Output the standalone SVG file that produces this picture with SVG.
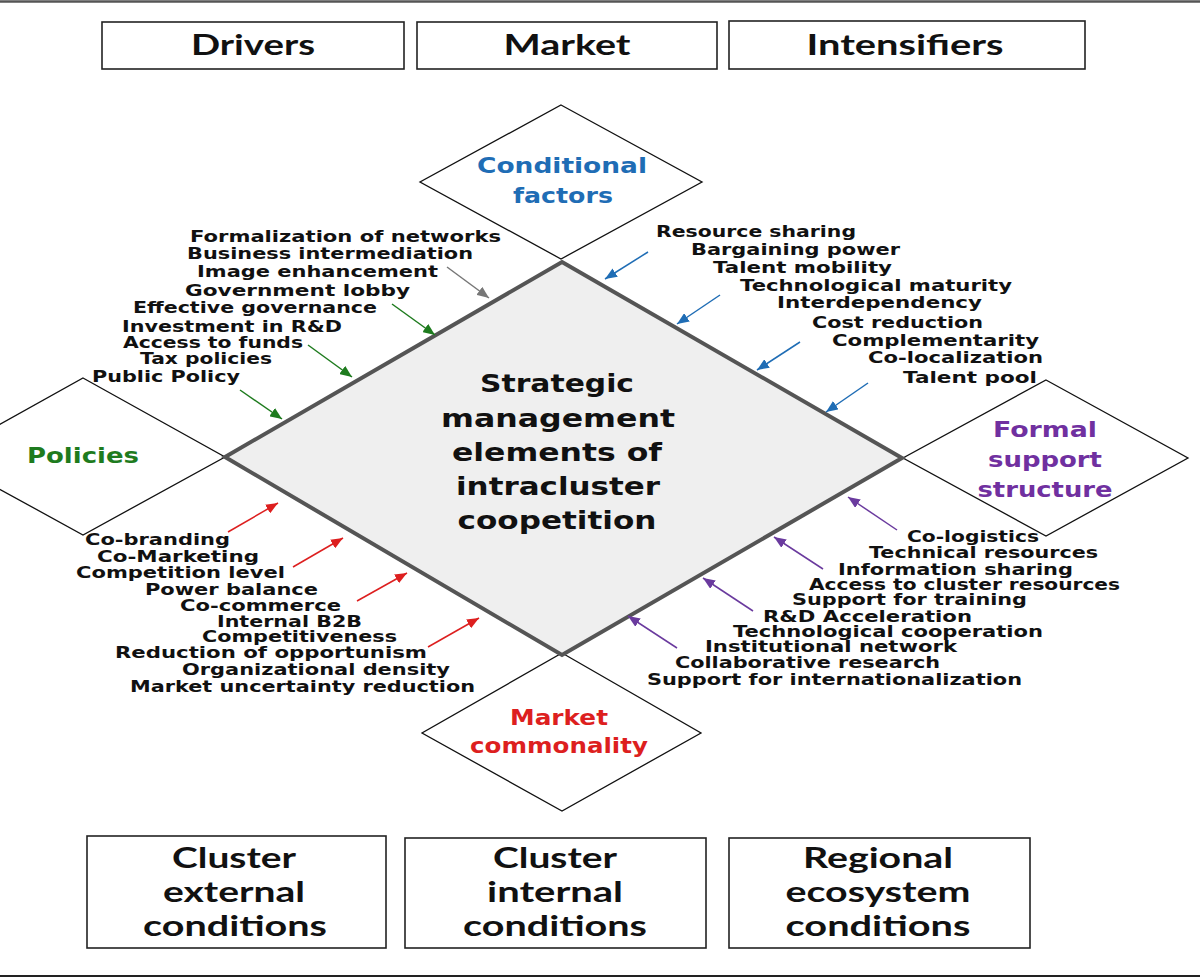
<svg xmlns="http://www.w3.org/2000/svg" width="1200" height="978" viewBox="0 0 1200 978">
<style>
.box{fill:#fff;stroke:#222;stroke-width:1.6}
.bt{font-family:Lato,"Liberation Sans",sans-serif;font-weight:700;font-size:29px;fill:#111;text-anchor:middle}
.dm{fill:#fff;stroke:#111;stroke-width:1.3}
.core{fill:#efefef;stroke:#555;stroke-width:4;stroke-linejoin:miter}
.ct{font-family:"DejaVu Sans",Verdana,sans-serif;font-weight:700;font-size:25px;fill:#111;text-anchor:middle}
.tt{font-family:"DejaVu Sans",Verdana,sans-serif;font-weight:700;font-size:22px;text-anchor:middle}
.lt{font-family:"DejaVu Sans",Verdana,sans-serif;font-weight:700;font-size:15.5px;fill:#111}
.a{stroke-width:1.5;fill:none}
</style>
<defs>
<marker id="mg" markerUnits="userSpaceOnUse" markerWidth="13" markerHeight="10" refX="12" refY="5" orient="auto"><path d="M0,0 L12,5 L0,10 z" fill="#777"/></marker>
<marker id="mgr" markerUnits="userSpaceOnUse" markerWidth="13" markerHeight="10" refX="12" refY="5" orient="auto"><path d="M0,0 L12,5 L0,10 z" fill="#1e7b1e"/></marker>
<marker id="mb" markerUnits="userSpaceOnUse" markerWidth="13" markerHeight="10" refX="12" refY="5" orient="auto"><path d="M0,0 L12,5 L0,10 z" fill="#1f6db5"/></marker>
<marker id="mp" markerUnits="userSpaceOnUse" markerWidth="13" markerHeight="10" refX="12" refY="5" orient="auto"><path d="M0,0 L12,5 L0,10 z" fill="#6a3a9e"/></marker>
<marker id="mr" markerUnits="userSpaceOnUse" markerWidth="13" markerHeight="10" refX="12" refY="5" orient="auto"><path d="M0,0 L12,5 L0,10 z" fill="#dd1f1f"/></marker>
</defs>
<rect width="1200" height="978" fill="#fff"/>
<line x1="0" y1="1.5" x2="1200" y2="1.5" stroke="#555" stroke-width="2.5"/>
<line x1="0" y1="976" x2="1200" y2="976" stroke="#222" stroke-width="2"/>

<g id="drivers"><rect class="box" x="102" y="22" width="302" height="47"/><text class="bt" x="253" y="55" textLength="124" lengthAdjust="spacingAndGlyphs">Drivers</text></g>
<g id="market"><rect class="box" x="417" y="22" width="300" height="47"/><text class="bt" x="567" y="55" textLength="127" lengthAdjust="spacingAndGlyphs">Market</text></g>
<g id="intensifiers"><rect class="box" x="729" y="21" width="356" height="48"/><text class="bt" x="905" y="55" textLength="197" lengthAdjust="spacingAndGlyphs">Intensifiers</text></g>

<g id="conditional-factors"><polygon class="dm" points="561,105 702,182 561,259 420,182"/>
<text class="tt" fill="#1f6db5" x="562" y="173" textLength="170" lengthAdjust="spacingAndGlyphs">Conditional</text>
<text class="tt" fill="#1f6db5" x="563" y="203" textLength="100" lengthAdjust="spacingAndGlyphs">factors</text></g>
<g id="policies"><polygon class="dm" points="83,378 225,457 83,535 -59,457"/>
<text class="tt" fill="#1e7b1e" x="83" y="463" textLength="112" lengthAdjust="spacingAndGlyphs">Policies</text></g>
<g id="formal-support"><polygon class="dm" points="1046,380 1188,458 1046,536 903,458"/>
<text class="tt" fill="#7030a0" x="1045" y="437" textLength="104" lengthAdjust="spacingAndGlyphs">Formal</text>
<text class="tt" fill="#7030a0" x="1045" y="467" textLength="114" lengthAdjust="spacingAndGlyphs">support</text>
<text class="tt" fill="#7030a0" x="1045" y="497" textLength="135" lengthAdjust="spacingAndGlyphs">structure</text></g>
<g id="market-commonality"><polygon class="dm" points="562,653 701,733 562,811 422,733"/>
<text class="tt" fill="#dd1f1f" x="559" y="725" textLength="98" lengthAdjust="spacingAndGlyphs">Market</text>
<text class="tt" fill="#dd1f1f" x="559" y="753" textLength="178" lengthAdjust="spacingAndGlyphs">commonality</text></g>

<g id="core"><polygon class="core" points="562,262 902,458 562,655 225,457"/>
<text class="ct" x="557" y="392" textLength="154" lengthAdjust="spacingAndGlyphs">Strategic</text>
<text class="ct" x="558" y="427" textLength="234" lengthAdjust="spacingAndGlyphs">management</text>
<text class="ct" x="557" y="461" textLength="210" lengthAdjust="spacingAndGlyphs">elements of</text>
<text class="ct" x="558" y="495" textLength="204" lengthAdjust="spacingAndGlyphs">intracluster</text>
<text class="ct" x="557" y="529" textLength="199" lengthAdjust="spacingAndGlyphs">coopetition</text></g>

<g id="policy-list">
<text class="lt" x="190" y="242" textLength="311" lengthAdjust="spacingAndGlyphs">Formalization of networks</text>
<text class="lt" x="187" y="259" textLength="286" lengthAdjust="spacingAndGlyphs">Business intermediation</text>
<text class="lt" x="197" y="277" textLength="241" lengthAdjust="spacingAndGlyphs">Image enhancement</text>
<text class="lt" x="185" y="296" textLength="225" lengthAdjust="spacingAndGlyphs">Government lobby</text>
<text class="lt" x="133" y="313" textLength="244" lengthAdjust="spacingAndGlyphs">Effective governance</text>
<text class="lt" x="122" y="332" textLength="220" lengthAdjust="spacingAndGlyphs">Investment in R&amp;D</text>
<text class="lt" x="123" y="348" textLength="180" lengthAdjust="spacingAndGlyphs">Access to funds</text>
<text class="lt" x="140" y="364" textLength="132" lengthAdjust="spacingAndGlyphs">Tax policies</text>
<text class="lt" x="92" y="382" textLength="148" lengthAdjust="spacingAndGlyphs">Public Policy</text>
</g>
<g id="conditional-list">
<text class="lt" x="656" y="237" textLength="200" lengthAdjust="spacingAndGlyphs">Resource sharing</text>
<text class="lt" x="691" y="255" textLength="209" lengthAdjust="spacingAndGlyphs">Bargaining power</text>
<text class="lt" x="713" y="273" textLength="179" lengthAdjust="spacingAndGlyphs">Talent mobility</text>
<text class="lt" x="740" y="291" textLength="272" lengthAdjust="spacingAndGlyphs">Technological maturity</text>
<text class="lt" x="777" y="308" textLength="205" lengthAdjust="spacingAndGlyphs">Interdependency</text>
<text class="lt" x="812" y="328" textLength="171" lengthAdjust="spacingAndGlyphs">Cost reduction</text>
<text class="lt" x="832" y="346" textLength="207" lengthAdjust="spacingAndGlyphs">Complementarity</text>
<text class="lt" x="868" y="363" textLength="175" lengthAdjust="spacingAndGlyphs">Co-localization</text>
<text class="lt" x="903" y="383" textLength="134" lengthAdjust="spacingAndGlyphs">Talent pool</text>
</g>
<g id="formal-list">
<text class="lt" x="907" y="542" textLength="132" lengthAdjust="spacingAndGlyphs">Co-logistics</text>
<text class="lt" x="869" y="558" textLength="229" lengthAdjust="spacingAndGlyphs">Technical resources</text>
<text class="lt" x="838" y="575" textLength="235" lengthAdjust="spacingAndGlyphs">Information sharing</text>
<text class="lt" x="809" y="590" textLength="311" lengthAdjust="spacingAndGlyphs">Access to cluster resources</text>
<text class="lt" x="792" y="605" textLength="235" lengthAdjust="spacingAndGlyphs">Support for training</text>
<text class="lt" x="763" y="622" textLength="209" lengthAdjust="spacingAndGlyphs">R&amp;D Acceleration</text>
<text class="lt" x="733" y="637" textLength="310" lengthAdjust="spacingAndGlyphs">Technological cooperation</text>
<text class="lt" x="705" y="652" textLength="252" lengthAdjust="spacingAndGlyphs">Institutional network</text>
<text class="lt" x="675" y="668" textLength="265" lengthAdjust="spacingAndGlyphs">Collaborative research</text>
<text class="lt" x="647" y="685" textLength="375" lengthAdjust="spacingAndGlyphs">Support for internationalization</text>
</g>
<g id="market-list">
<text class="lt" x="85" y="545" textLength="145" lengthAdjust="spacingAndGlyphs">Co-branding</text>
<text class="lt" x="97" y="562" textLength="162" lengthAdjust="spacingAndGlyphs">Co-Marketing</text>
<text class="lt" x="76" y="578" textLength="209" lengthAdjust="spacingAndGlyphs">Competition level</text>
<text class="lt" x="145" y="595" textLength="173" lengthAdjust="spacingAndGlyphs">Power balance</text>
<text class="lt" x="180" y="611" textLength="161" lengthAdjust="spacingAndGlyphs">Co-commerce</text>
<text class="lt" x="217" y="627" textLength="145" lengthAdjust="spacingAndGlyphs">Internal B2B</text>
<text class="lt" x="202" y="642" textLength="195" lengthAdjust="spacingAndGlyphs">Competitiveness</text>
<text class="lt" x="115" y="658" textLength="312" lengthAdjust="spacingAndGlyphs">Reduction of opportunism</text>
<text class="lt" x="182" y="675" textLength="268" lengthAdjust="spacingAndGlyphs">Organizational density</text>
<text class="lt" x="130" y="692" textLength="345" lengthAdjust="spacingAndGlyphs">Market uncertainty reduction</text>
</g>

<g id="connectors">
<line class="a" stroke="#777" x1="447" y1="267" x2="489" y2="298" marker-end="url(#mg)"/>
<line class="a" stroke="#1e7b1e" x1="392" y1="304" x2="435" y2="335" marker-end="url(#mgr)"/>
<line class="a" stroke="#1e7b1e" x1="308" y1="345" x2="352" y2="377" marker-end="url(#mgr)"/>
<line class="a" stroke="#1e7b1e" x1="240" y1="390" x2="282" y2="419" marker-end="url(#mgr)"/>
<line class="a" stroke="#1f6db5" x1="648" y1="252" x2="605" y2="279" marker-end="url(#mb)"/>
<line class="a" stroke="#1f6db5" x1="720" y1="295" x2="677" y2="324" marker-end="url(#mb)"/>
<line class="a" stroke="#1f6db5" x1="800" y1="342" x2="757" y2="370" marker-end="url(#mb)"/>
<line class="a" stroke="#1f6db5" x1="868" y1="383" x2="826" y2="412" marker-end="url(#mb)"/>
<line class="a" stroke="#6a3a9e" x1="897" y1="530" x2="848" y2="497" marker-end="url(#mp)"/>
<line class="a" stroke="#6a3a9e" x1="823" y1="569" x2="774" y2="537" marker-end="url(#mp)"/>
<line class="a" stroke="#6a3a9e" x1="753" y1="611" x2="703" y2="578" marker-end="url(#mp)"/>
<line class="a" stroke="#6a3a9e" x1="677" y1="648" x2="628" y2="616" marker-end="url(#mp)"/>
<line class="a" stroke="#dd1f1f" x1="228" y1="532" x2="278" y2="503" marker-end="url(#mr)"/>
<line class="a" stroke="#dd1f1f" x1="293" y1="567" x2="343" y2="538" marker-end="url(#mr)"/>
<line class="a" stroke="#dd1f1f" x1="357" y1="601" x2="407" y2="573" marker-end="url(#mr)"/>
<line class="a" stroke="#dd1f1f" x1="428" y1="647" x2="479" y2="618" marker-end="url(#mr)"/>
</g>

<g id="cluster-external"><rect class="box" x="87" y="836" width="299" height="112"/>
<text class="bt" x="234" y="868" textLength="124" lengthAdjust="spacingAndGlyphs">Cluster</text>
<text class="bt" x="234" y="902" textLength="142" lengthAdjust="spacingAndGlyphs">external</text>
<text class="bt" x="235" y="936" textLength="184" lengthAdjust="spacingAndGlyphs">conditions</text></g>
<g id="cluster-internal"><rect class="box" x="405" y="838" width="301" height="110"/>
<text class="bt" x="555" y="868" textLength="124" lengthAdjust="spacingAndGlyphs">Cluster</text>
<text class="bt" x="555" y="902" textLength="136" lengthAdjust="spacingAndGlyphs">internal</text>
<text class="bt" x="555" y="936" textLength="184" lengthAdjust="spacingAndGlyphs">conditions</text></g>
<g id="regional-ecosystem"><rect class="box" x="729" y="838" width="301" height="110"/>
<text class="bt" x="878" y="868" textLength="150" lengthAdjust="spacingAndGlyphs">Regional</text>
<text class="bt" x="878" y="902" textLength="185" lengthAdjust="spacingAndGlyphs">ecosystem</text>
<text class="bt" x="878" y="936" textLength="185" lengthAdjust="spacingAndGlyphs">conditions</text></g>
</svg>
